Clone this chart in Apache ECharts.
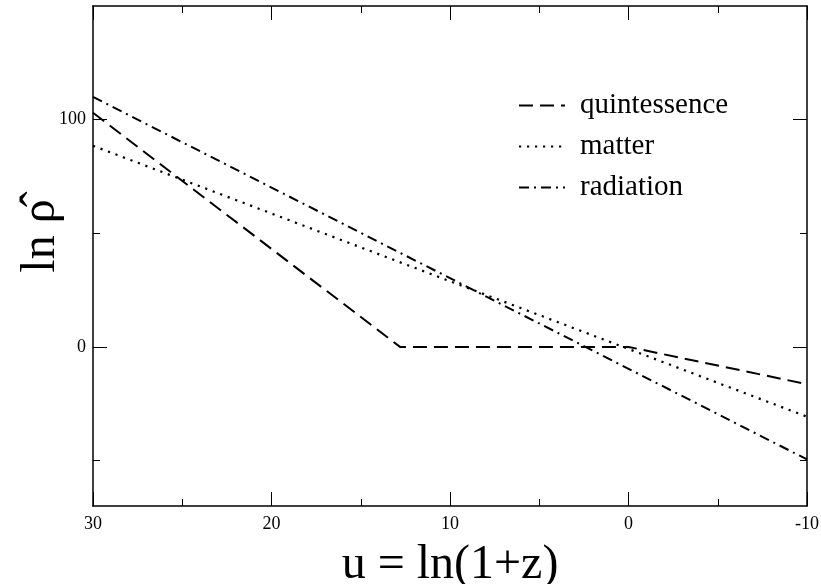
<!DOCTYPE html>
<html>
<head>
<meta charset="utf-8">
<script src="https://cdn.jsdelivr.net/npm/echarts@6/dist/echarts.min.js"></script>
<style>
html,body{margin:0;padding:0;background:#fff;}
#chart{width:821px;height:584px;}
</style>
</head>
<body>
<div id="chart"></div>
<script>
// Data
const seriesNames = ['quintessence', 'matter', 'radiation'];
const quintU = [30, 12.8, 0, -10];
const quintLnRho = [103, 0, 0, -16.4];
const matterU = [30, -10];
const matterLnRho = [88.5, -30.7];
const radiationU = [30, -10];
const radiationLnRho = [110, -49.5];
const yMajorTicks = [0, 100];
const yMinorTicks = [-50, 50];

const FONT = 'Liberation Serif';
const pairs = (xs, ys) => xs.map((x, i) => [x, ys[i]]);

const chart = echarts.init(document.getElementById('chart'), null, {renderer: 'canvas'});

const axisLineStyle = {color: '#000', width: 1.5};
const yBase = {
  type: 'value', min: -70, max: 150,
  splitLine: {show: false}
};

const option = {
  animation: false,
  backgroundColor: '#fff',
  grid: {left: 93, right: 14, top: 6, bottom: 78, containLabel: false, outerBoundsMode: 'none'},
  legend: {
    data: seriesNames,
    orient: 'vertical',
    left: 513, top: 86,
    itemWidth: 46, itemHeight: 14, itemGap: 12,
    itemStyle: {opacity: 0},
    textStyle: {fontFamily: FONT, fontSize: 29, color: '#000', padding: [0, 0, 0, 10]}
  },
  xAxis: [{
    type: 'value', min: -10, max: 30, interval: 10, inverse: true,
    position: 'bottom',
    axisLine: {show: true, onZero: false, lineStyle: axisLineStyle},
    axisTick: {show: true, inside: true, length: 14, lineStyle: {color: '#000', width: 1}},
    minorTick: {show: true, splitNumber: 2, length: 7, lineStyle: {color: '#000', width: 1}},
    axisLabel: {fontFamily: FONT, fontSize: 18, color: '#000', margin: 9},
    splitLine: {show: false},
    name: 'u = ln(1+z)', nameLocation: 'middle', nameGap: 35, nameMoveOverlap: false,
    nameTextStyle: {fontFamily: FONT, fontSize: 48, color: '#000'}
  }, {
    type: 'value', min: -10, max: 30, interval: 10, inverse: true,
    position: 'top',
    axisLine: {show: true, onZero: false, lineStyle: axisLineStyle},
    axisTick: {show: true, inside: true, length: 14, lineStyle: {color: '#000', width: 1}},
    minorTick: {show: true, splitNumber: 2, length: 7, lineStyle: {color: '#000', width: 1}},
    axisLabel: {show: false},
    splitLine: {show: false}
  }],
  yAxis: [
    Object.assign({}, yBase, {
      position: 'left',
      axisLine: {show: true, onZero: false, lineStyle: axisLineStyle},
      axisTick: {show: true, inside: true, length: 14, customValues: yMajorTicks, lineStyle: {color: '#000', width: 1}},
      axisLabel: {fontFamily: FONT, fontSize: 18, color: '#000', margin: 7, customValues: yMajorTicks},
      name: 'ln ρ\u0302', nameLocation: 'middle', nameGap: 28, nameRotate: 90, nameMoveOverlap: false,
      nameTextStyle: {fontFamily: FONT, fontSize: 48, color: '#000', padding: [0, 0, 0, 40]}
    }),
    Object.assign({}, yBase, {
      position: 'left',
      axisLine: {show: false, onZero: false},
      axisTick: {show: true, inside: true, length: 7, customValues: yMinorTicks, lineStyle: {color: '#000', width: 1}},
      axisLabel: {show: false}
    }),
    Object.assign({}, yBase, {
      position: 'right',
      axisLine: {show: true, onZero: false, lineStyle: axisLineStyle},
      axisTick: {show: true, inside: true, length: 14, customValues: yMajorTicks, lineStyle: {color: '#000', width: 1}},
      axisLabel: {show: false}
    }),
    Object.assign({}, yBase, {
      position: 'right',
      axisLine: {show: false, onZero: false},
      axisTick: {show: true, inside: true, length: 7, customValues: yMinorTicks, lineStyle: {color: '#000', width: 1}},
      axisLabel: {show: false}
    })
  ],
  series: [{
    name: seriesNames[0], type: 'line', data: pairs(quintU, quintLnRho),
    symbol: 'none', lineStyle: {color: '#000', width: 2, type: [14, 7]}
  }, {
    name: seriesNames[1], type: 'line', data: pairs(matterU, matterLnRho),
    symbol: 'none', lineStyle: {color: '#000', width: 2.2, type: [2.2, 5.8], cap: 'butt'}
  }, {
    name: seriesNames[2], type: 'line', data: pairs(radiationU, radiationLnRho),
    symbol: 'none', lineStyle: {color: '#000', width: 2, type: [10, 5, 2, 5]}
  }]
};
chart.setOption(option);
</script>
</body>
</html>
